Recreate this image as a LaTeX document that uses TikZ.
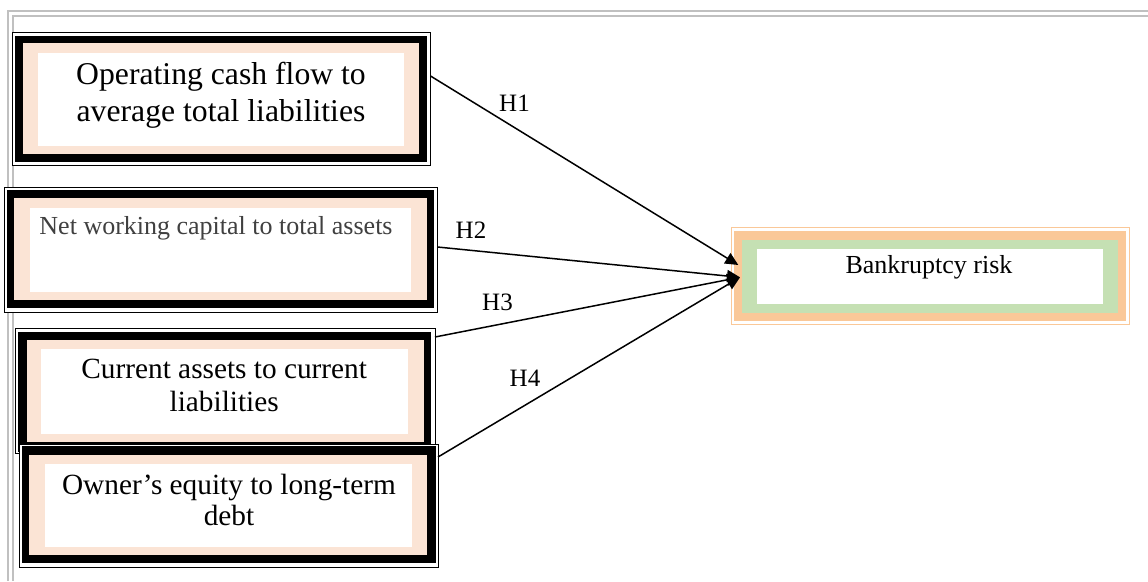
\documentclass[tikz,border=0pt]{standalone}
\usepackage{fontspec}
\setmainfont{Liberation Serif}
\usetikzlibrary{arrows.meta}
\definecolor{peach}{HTML}{FBE4D5}
\definecolor{apricot}{RGB}{250,200,152}
\definecolor{sage}{HTML}{C5E0B3}
\definecolor{framegray}{RGB}{192,192,192}
\definecolor{dimtext}{HTML}{404040}
\tikzset{
  thinframe/.style={draw=black, line width=0.9pt, fill=white, inner sep=0pt, outer sep=0pt},
  orangeframe/.style={draw=apricot, line width=0.9pt, fill=white, inner sep=0pt, outer sep=0pt},
  boxtext/.style={inner sep=0pt, align=center, anchor=base},
  hlabel/.style={inner sep=0pt, anchor=base, font=\fontsize{25}{28}\selectfont},
  link/.style={line width=1.5pt, -{Triangle[length=13pt,width=12pt]}},
  pageedge/.style={draw=framegray, line width=2pt}
}
\begin{document}
\begin{tikzpicture}[x=1pt,y=-1pt]
\useasboundingbox (0,0) rectangle (1148,581);
\fill[white] (0,0) rectangle (1148,581);

% page border (double grey rule, top and left)
\draw[pageedge] (7.5,581) -- (7.5,11.2) -- (1148,11.2);
\draw[pageedge] (13,581) -- (13,16.2) -- (1148,16.2);

% box 1 (text anchored at the baseline of its last line)
\node[thinframe, minimum width=418pt, minimum height=133pt] (b1) at (221.5,99) {};
\fill[black] (15,36) rectangle (427,162);
\fill[peach] (23,43) rectangle (419,154);
\fill[white] (38,53) rectangle (404,146);
\node[boxtext, font=\fontsize{31.7}{36.5}\selectfont] (t1) at (221,121)
  {Operating cash flow to\\average total liabilities};

% box 2
\node[thinframe, minimum width=433pt, minimum height=125pt] (b2) at (221,250) {};
\fill[black] (7,190) rectangle (434,308);
\fill[peach] (14,198) rectangle (427,300);
\fill[white] (30,208) rectangle (411,292);
\node[boxtext, text=dimtext, font=\fontsize{26}{30}\selectfont] (t2) at (216,234)
  {Net working capital to total assets};

% box 3
\node[thinframe, minimum width=419.5pt, minimum height=124.5pt] (b3) at (225.25,390.75) {};
\fill[black] (18,332) rectangle (431,452);
\fill[peach] (27,340) rectangle (424,442);
\fill[white] (41,349) rectangle (408,434);
\node[boxtext, font=\fontsize{29.3}{33.5}\selectfont] (t3) at (224.2,411.8)
  {Current assets to current\\liabilities};

% box 4
\node[thinframe, minimum width=419pt, minimum height=123pt] (b4) at (228.5,505.5) {};
\fill[black] (22,446) rectangle (436,563);
\fill[peach] (29,455) rectangle (427,555);
\fill[white] (45,464) rectangle (412,547);
\node[boxtext, font=\fontsize{29.3}{31.7}\selectfont] (t4) at (229,525.7)
  {Owner’s equity to long-term\\debt};

% outcome box
\node[orangeframe, minimum width=398pt, minimum height=97pt] (rr) at (930,275.5) {};
\fill[apricot] (733.5,230.5) rectangle (1125.5,320.5);
\fill[sage] (742,239.5) rectangle (1118,312.5);
\fill[white] (757,248.5) rectangle (1103,304);
\node[boxtext, font=\fontsize{26}{30}\selectfont] (tr) at (929,273) {Bankruptcy risk};

% hypotheses
\draw[link] ([yshift=23pt]b1.east) -- ([xshift=7.3pt,yshift=10.5pt]rr.west);
\draw[link] ([yshift=3pt]b2.east) -- ([xshift=9pt,yshift=-1.8pt]rr.west);
\draw[link] ([yshift=53.75pt]b3.east) -- ([xshift=9pt,yshift=-1.8pt]rr.west);
\draw[link] ([yshift=48.5pt]b4.east) -- ([xshift=9pt,yshift=-1.8pt]rr.west);

\node[hlabel] (h1) at (514.5,111) {H1};
\node[hlabel] (h2) at (471,238.3) {H2};
\node[hlabel] (h3) at (497.5,310.7) {H3};
\node[hlabel] (h4) at (525,386) {H4};
\end{tikzpicture}
\end{document}
